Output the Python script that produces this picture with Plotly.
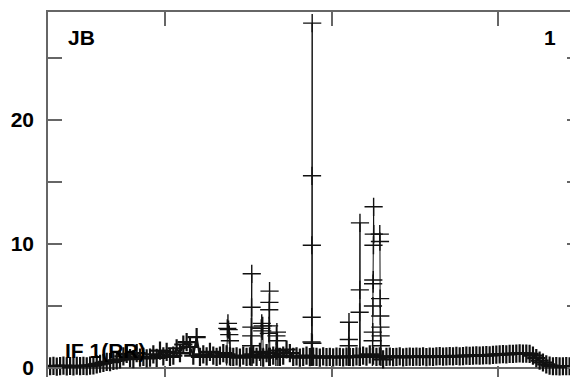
import plotly.graph_objects as go

# ---------------- data ----------------
# baseline amplitude, channels 31..347 step 2
baseline_channels = list(range(31, 348, 2))
baseline_amp = [
    0.15, 0.18, 0.12, 0.16, 0.20, 0.14, 0.17, 0.13, 0.19, 0.16,
    0.18, 0.15, 0.20, 0.22, 0.30, 0.35, 0.42, 0.50, 0.48, 0.58,
    0.62, 0.70, 0.95, 1.15, 0.80, 0.72, 1.20, 0.85, 0.90, 0.78,
    0.85, 1.10, 0.82, 1.40, 0.95, 1.30, 0.90, 1.00, 1.60, 1.20,
    1.90, 2.10, 1.70, 1.00, 2.50, 0.90, 1.10, 0.95, 1.30, 1.00,
    0.90, 1.00, 1.20, 1.10, 0.95, 0.90, 0.95, 0.85, 1.00, 0.90,
    0.95, 1.10, 0.90, 1.30, 0.85, 1.20, 0.90, 1.00, 1.40, 0.90,
    1.00, 1.50, 1.20, 0.90, 0.95, 0.85, 0.90, 1.00, 0.88, 0.92,
    0.90, 0.85, 0.95, 0.88, 0.90, 0.86, 0.92, 0.90, 0.87, 0.93,
    0.90, 0.88, 0.95, 0.90, 1.00, 0.92, 1.10, 1.00, 0.90, 0.95,
    0.70, 0.90, 0.92, 0.88, 0.90, 0.95, 0.87, 0.90, 0.93, 0.90,
    0.92, 0.90, 0.95, 0.88, 0.93, 0.90, 0.94, 0.96, 0.92, 0.95,
    0.96, 0.94, 0.98, 0.95, 0.97, 1.00, 0.98, 1.00, 1.02, 1.00,
    1.03, 1.05, 1.02, 1.06, 1.08, 1.10, 1.12, 1.10, 1.14, 1.15,
    1.16, 1.18, 1.17, 1.16, 1.15, 1.00, 0.80, 0.60, 0.45, 0.30,
    0.20, 0.15, 0.16, 0.14, 0.15, 0.16, 0.15, 0.14, 0.15,
]

cluster1_ch = [137.0, 137.4, 137.8, 138.2, 138.6, 139.0, 139.4]
cluster1_amp = [0.95, 3.2, 3.6, 3.1, 2.7, 2.2, 0.9]

spike1_ch = [151.6, 151.7, 151.8, 151.9, 152.0, 152.1, 152.3]
spike1_amp = [0.9, 1.8, 2.6, 3.3, 4.9, 7.6, 0.9]

cluster2_ch = [157.5, 157.8, 158.1, 158.4, 158.7, 159.0]
cluster2_amp = [0.9, 3.2, 3.6, 3.0, 3.4, 0.9]

spike2_ch = [162.3, 162.4, 162.5, 162.6, 162.7, 162.8, 163.0]
spike2_amp = [0.9, 2.8, 3.4, 4.7, 5.3, 6.2, 0.9]

cluster3_ch = [166.6, 166.9, 167.2, 167.5, 167.8]
cluster3_amp = [0.9, 2.6, 2.9, 2.2, 0.9]

spike3_ch = [187.9, 188.0, 188.1, 188.2, 188.3, 188.4, 188.5, 188.8]
spike3_amp = [0.9, 2.1, 4.1, 9.9, 15.5, 27.8, 2.0, 0.9]

spike4_ch = [210.2, 210.3, 210.4, 210.5, 210.7]
spike4_amp = [0.9, 1.8, 2.3, 3.7, 0.9]

spike5_ch = [216.8, 216.9, 217.0, 217.1, 217.3]
spike5_amp = [0.9, 4.5, 6.3, 11.7, 0.9]

spike6_ch = [224.6, 224.7, 224.8, 224.9, 225.0, 225.1, 225.2, 225.3, 225.4,
             229.0, 229.1, 229.2, 229.3, 229.4, 229.5, 229.6, 229.7]
spike6_amp = [0.9, 2.2, 2.9, 5.0, 6.8, 7.1, 9.9, 13.0, 10.8,
              10.8, 10.2, 5.6, 4.2, 3.3, 2.6, 1.8, 0.9]

spikes = [
    (cluster1_ch, cluster1_amp), (spike1_ch, spike1_amp),
    (cluster2_ch, cluster2_amp), (spike2_ch, spike2_amp),
    (cluster3_ch, cluster3_amp), (spike3_ch, spike3_amp),
    (spike4_ch, spike4_amp), (spike5_ch, spike5_amp),
    (spike6_ch, spike6_amp),
]

y_tick_vals = [0, 5, 10, 15, 20, 25]
y_tick_text = ["0", "", "10", "", "20", ""]
x_tick_vals = [100, 200, 300]

# ---------------- figure ----------------
FONT = "Liberation Sans, Arial, sans-serif"
frame_col = "#666666"

marker_style = dict(symbol="cross-thin", size=13,
                    line=dict(width=2.2, color="#111111"), color="#111111")
line_style = dict(color="#111111", width=1)
spike_marker = dict(symbol="cross-thin", size=13,
                    line=dict(width=1.4, color="#111111"), color="#111111")

fig = go.Figure()
fig.add_trace(go.Scatter(x=baseline_channels, y=baseline_amp, mode="lines+markers",
                         line=dict(color="#111111", width=2), marker=marker_style,
                         showlegend=False, hoverinfo="skip"))
for xs, ys in spikes:
    fig.add_trace(go.Scatter(x=xs, y=ys, mode="lines+markers",
                             line=line_style, marker=spike_marker, showlegend=False,
                             hoverinfo="skip"))

fig.update_layout(
    width=578, height=377,
    margin=dict(l=40, r=5, t=2, b=5),
    paper_bgcolor="white", plot_bgcolor="white",
    font=dict(family=FONT, color="black"),
    xaxis=dict(range=[29.73, 349.85], showgrid=False, zeroline=False,
               showline=True, linecolor=frame_col, linewidth=1.5,
               ticks="inside", ticklen=14, tickwidth=1.5,
               tickcolor=frame_col, tickvals=x_tick_vals, showticklabels=False,
               mirror="ticks"),
    yaxis=dict(range=[-0.96, 28.7], showgrid=False, zeroline=True,
               zerolinecolor=frame_col, zerolinewidth=1.5,
               showline=True, linecolor=frame_col, linewidth=1.5,
               ticks="inside", ticklen=14, tickwidth=1.5,
               tickcolor=frame_col, tickvals=y_tick_vals, ticktext=y_tick_text,
               tickfont=dict(size=21, family=FONT, color="black", weight="bold"),
               ticklabelstandoff=8, mirror="ticks"),
    annotations=[
        dict(text="JB", xref="paper", yref="paper", x=0.034, y=0.93,
             xanchor="left", yanchor="middle", showarrow=False,
             font=dict(size=21, family=FONT, color="black", weight="bold")),
        dict(text="1", xref="paper", yref="paper", x=0.942, y=0.93,
             xanchor="center", yanchor="middle", showarrow=False,
             font=dict(size=21, family=FONT, color="black", weight="bold")),
        dict(text="IF 1(RR)", xref="paper", yref="paper", x=0.028, y=0.081,
             xanchor="left", yanchor="middle", showarrow=False,
             font=dict(size=21, family=FONT, color="black", weight="bold")),
    ],
)

fig.write_html("out.html")
